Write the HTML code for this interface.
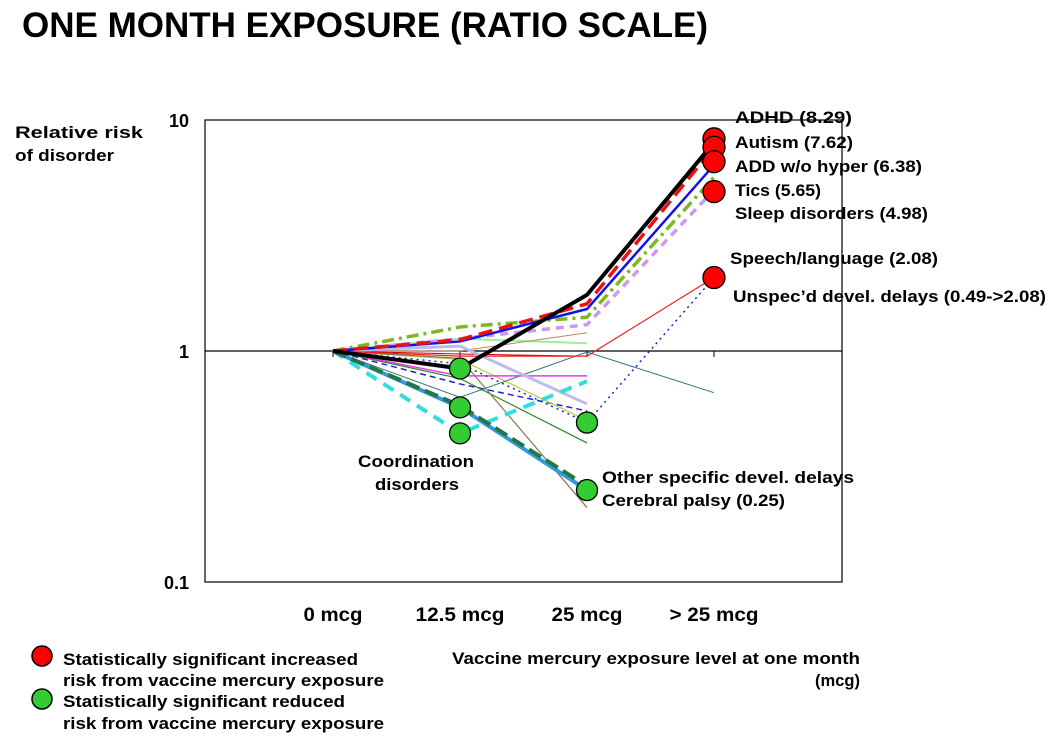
<!DOCTYPE html>
<html><head><meta charset="utf-8"><style>
body{margin:0;background:#fff;width:1056px;height:734px;overflow:hidden;font-family:"Liberation Sans",Arial,sans-serif}
svg text{font-family:"Liberation Sans",Arial,sans-serif;font-weight:bold;fill:#000}
</style></head><body>
<svg id="c" width="1056" height="734">
<text x="22" y="37" font-size="35" textLength="686" lengthAdjust="spacingAndGlyphs">ONE MONTH EXPOSURE (RATIO SCALE)</text>
<text x="15" y="138" font-size="17" textLength="128" lengthAdjust="spacingAndGlyphs">Relative risk</text>
<text x="15" y="161" font-size="17" textLength="99" lengthAdjust="spacingAndGlyphs">of disorder</text>
<text x="452" y="664" font-size="17" textLength="408" lengthAdjust="spacingAndGlyphs">Vaccine mercury exposure level at one month</text>
<text x="815" y="686" font-size="17" textLength="45" lengthAdjust="spacingAndGlyphs">(mcg)</text>
<g>
<circle cx="42" cy="656" r="10" fill="#f00" stroke="#000" stroke-width="1.5"/>
<text x="63" y="665" font-size="17" textLength="295" lengthAdjust="spacingAndGlyphs">Statistically significant increased</text>
<text x="63" y="686" font-size="17" textLength="321" lengthAdjust="spacingAndGlyphs">risk from vaccine mercury exposure</text>
<circle cx="42" cy="699" r="10" fill="#3c3" stroke="#000" stroke-width="1.5"/>
<text x="63" y="707" font-size="17" textLength="282" lengthAdjust="spacingAndGlyphs">Statistically significant reduced</text>
<text x="63" y="729" font-size="17" textLength="321" lengthAdjust="spacingAndGlyphs">risk from vaccine mercury exposure</text>
</g>
</svg>
<script>
const categories=["0 mcg","12.5 mcg","25 mcg","> 25 mcg"];
const yTicks=[0.1,1,10];
const yTickLabels=["0.1","1","10"];
const sAdhd=[1,0.84,1.75,8.0];
const sAutism=[1,1.12,1.6,7.62];
const sAdd=[1,1.1,1.52,6.38];
const sTics=[1,1.27,1.4,5.65];
const sSleep=[1,1.13,1.3,4.98];
const sSpeech=[1,0.95,0.95,2.08];
const sUnspec=[1,0.88,0.49,2.08];
const sCoord=[1,0.44,0.74];
const sOther=[1,0.57,0.25];
const sCp=[1,0.58,0.26];
const sBrownThin=[1,0.93,0.21];
const sLavender=[1,1.05,0.59];
const sMagenta=[1,0.78,0.78];
const sTeal=[1,0.63,0.99,0.66];
const sDarkGreen=[1,0.76,0.40];
const sYellowGreen=[1,0.92,0.5];
const sLightGreen=[1,1.13,1.08];
const sBrownPlus=[1,1.0,1.2];
const sBlueDash=[1,0.72,0.55];
const sRedThin2=[1,0.97,0.95];
const redPts=[[3,8.29],[3,7.62],[3,6.6],[3,4.9],[3,2.08]];
const greenPts=[[1,0.84],[1,0.57],[1,0.44],[2,0.49],[2,0.25]];

const L=205,R=842,T=120,B=582;
const xs=i=>333+i*127;
const ys=v=>B-(Math.log10(v)+1)/2*(B-T);
const svg=document.getElementById('c');
const NS='http://www.w3.org/2000/svg';
function mk(t,a){const e=document.createElementNS(NS,t);for(const k in a)e.setAttribute(k,a[k]);svg.appendChild(e);return e;}
let e=mk('rect',{x:L,y:T,width:R-L,height:B-T,fill:'none',stroke:'#000','stroke-width':1.2});


e=mk('line',{x1:L,x2:R,y1:ys(1),y2:ys(1),stroke:'#000','stroke-width':1.2});


yTicks.forEach((v,i)=>{
 const t=mk('text',{x:189,y:ys(v)+7,'font-size':18,'text-anchor':'end'});t.textContent=yTickLabels[i];
 
 
});
const xLabW=[59,89,71,89];
categories.forEach((c,i)=>{
 const t=mk('text',{x:xs(i)-xLabW[i]/2,y:621,'font-size':19,textLength:xLabW[i],lengthAdjust:'spacingAndGlyphs'});t.textContent=c;
 
 
 const k=mk('line',{x1:xs(i),x2:xs(i),y1:ys(1),y2:ys(1)+6,stroke:'#000'});
 
 
});
const series=[
 [sBlueDash,'#22c','1.5','6,4','line-blue-dashed'],
 [sRedThin2,'#c00','1','','line-red-thin'],
 [sLightGreen,'#9e9','2','','line-light-green'],
 [sBrownPlus,'#b86','1','','line-brown-plus'],
 [sYellowGreen,'#bc3','1.2','','line-yellow-green'],
 [sDarkGreen,'#282','1.2','','line-dark-green'],
 [sTeal,'#377','1','','line-teal'],
 [sMagenta,'#e3e','1.5','','line-magenta'],
 [sLavender,'#bbe','3','','line-lavender'],
 [sBrownThin,'#875','1.2','','line-brown-thin'],
 [sCoord,'#3dd','4','12,8','line-coordination'],
 [sOther,'#39d','4','','line-other-specific'],
 [sCp,'#274','4','14,6','line-cerebral-palsy'],
 [sUnspec,'#22c','1.5','2,4','line-unspecified-delays'],
 [sSpeech,'#e22','1.2','','line-speech-language'],
 [sSleep,'#c9e','3.5','8,6','line-sleep-disorders'],
 [sTics,'#7b2','3.5','12,5,3,5','line-tics'],
 [sAdd,'#11e','2.5','','line-add'],
 [sAutism,'#e11','3.5','14,7','line-autism'],
 [sAdhd,'#000','4','','line-adhd']
];
series.forEach(s=>{
 const p=mk('polyline',{points:s[0].map((v,i)=>xs(i)+','+ys(v)).join(' '),fill:'none',stroke:s[1],'stroke-width':s[2],'stroke-dasharray':s[3]});
 
 
});
redPts.forEach(p=>{const c=mk('circle',{cx:xs(p[0]),cy:ys(p[1]),r:11,fill:'#f00',stroke:'#000','stroke-width':1.3});
 
 });
greenPts.forEach(p=>{const c=mk('circle',{cx:xs(p[0]),cy:ys(p[1]),r:10.5,fill:'#3c3',stroke:'#000','stroke-width':1.3});
 
 });
const labels=[[735,123,'ADHD (8.29)',117],[735,148,'Autism (7.62)',118],[735,172,'ADD w/o hyper (6.38)',187],[735,196,'Tics (5.65)',86],[735,219,'Sleep disorders (4.98)',193],[730,264,'Speech/language (2.08)',208],[733,302,'Unspec\u2019d devel. delays (0.49->2.08)',313],[358,467,'Coordination',116],[375,490,'disorders',84],[602,483,'Other specific  devel. delays',252],[602,506,'Cerebral palsy (0.25)',183]];
labels.forEach(l=>{const t=mk('text',{x:l[0],y:l[1],'font-size':17,textLength:l[3],lengthAdjust:'spacingAndGlyphs'});t.textContent=l[2];
 
 });
</script>
</body></html>
